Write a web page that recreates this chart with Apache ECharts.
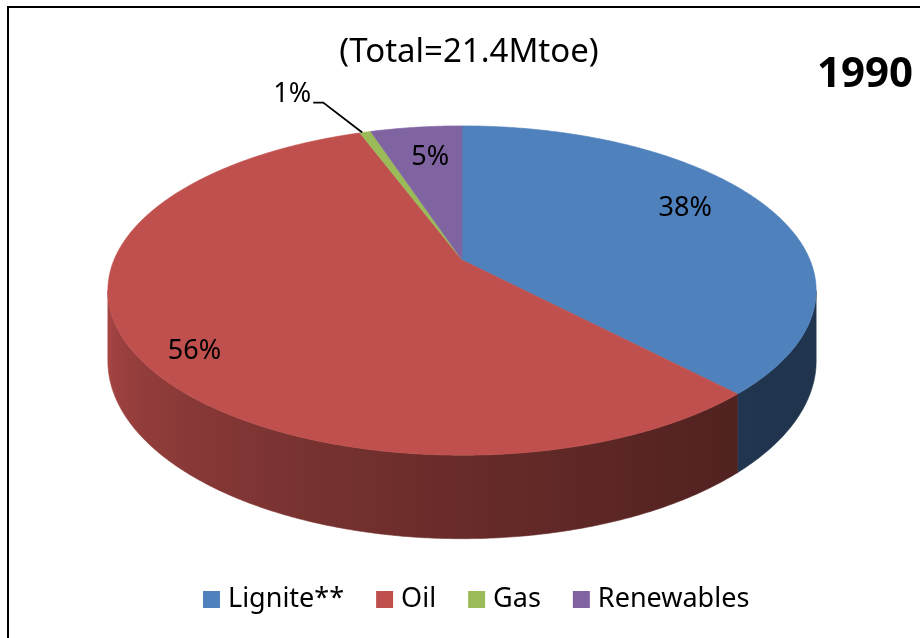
<!DOCTYPE html>
<html>
<head>
<meta charset="utf-8">
<title>Energy mix 1990</title>
<script src="https://cdn.jsdelivr.net/npm/echarts@6.0.0/dist/echarts.min.js"></script>
<style>
    html, body { margin: 0; padding: 0; background: #fff; }
    #chart { width: 920px; height: 638px; }
</style>
</head>
<body>
<div id="chart"></div>
<script>
// data (shares in % of 21.4 Mtoe)
var categories = ['Lignite**', 'Oil', 'Gas', 'Renewables'];
var shares = [38.0, 56.4, 0.6, 5.0];
var colors = ['#4F81BD', '#C0504D', '#9BBB59', '#8064A2'];
var titleText = '(Total=21.4Mtoe)';
var yearText = '1990';

var fontFamily = '"Noto Sans", "DejaVu Sans", sans-serif';

// tilted disc, simple perspective: apex at (cx, cy)
var cx = 462, cy = 260, rx = 348, ry = 159, tilt = 0.1855, depth = 68;
var EDGE_R = Math.acos(-tilt) * 180 / Math.PI;   // right silhouette
var EDGE_L = 360 - EDGE_R;                        // left silhouette

// label nudges (Excel puts them a bit off the mid radius)
var labelOffsets = [[7, -13], [-45, 29], [0, 0], [2, -5]];

function project(theta, r) {
    var a = theta * Math.PI / 180;
    var u = Math.sin(a) * r, v = -Math.cos(a) * r;
    var w = 1 - tilt * v;
    return [cx + rx * u / w, cy + ry * v / w, w];
}

function shade(hex, f) {
    var n = parseInt(hex.slice(1), 16);
    var r = Math.round(((n >> 16) & 255) * f),
        g = Math.round(((n >> 8) & 255) * f),
        b = Math.round((n & 255) * f);
    return 'rgb(' + r + ',' + g + ',' + b + ')';
}

function wallFactor(theta) {
    var t = (theta - 130) / (EDGE_L - 130);
    t = Math.max(0, Math.min(1, t));
    return 0.41 + 0.46 * Math.pow(t, 1.3);
}

function sliceAngles(idx, value) {
    var total = 0, before = 0;
    for (var i = 0; i < shares.length; i++) {
        total += shares[i];
        if (i < idx) before += shares[i];
    }
    return [before / total * 360, (before + value) / total * 360, value / total * 100];
}

function makeRender(idx) {
    return function (params, api) {
        var val = api.value(0);
        var ang = sliceAngles(idx, val);
        var s = ang[0], e = ang[1];
        var color = colors[idx];
        var children = [];

        // side wall (front part only)
        var a = Math.max(s, EDGE_R), b = Math.min(e, EDGE_L);
        if (a < b) {
            var n = Math.max(2, Math.ceil((b - a) / 0.5));
            var top = [], bottom = [];
            for (var k = 0; k <= n; k++) {
                var th = a + (b - a) * k / n;
                var p = project(th, 1);
                top.push([p[0], p[1]]);
                bottom.push([p[0], p[1] + depth / p[2]]);
            }
            var xRight = top[0][0], xLeft = top[n][0];
            var stops = [];
            for (var m = 0; m <= 10; m++) {
                var tt = b - (b - a) * m / 10;
                var px = project(tt, 1)[0];
                stops.push({ offset: (px - xLeft) / (xRight - xLeft), color: shade(color, wallFactor(tt)) });
            }
            var fill = new echarts.graphic.LinearGradient(xLeft, 0, xRight, 0, stops, true);
            children.push({
                type: 'polygon',
                shape: { points: top.concat(bottom.reverse()) },
                style: { fill: fill, stroke: fill, lineWidth: 0.6 }
            });
        }

        // top face
        var pts = [[cx, cy]];
        var steps = Math.max(2, Math.ceil((e - s) / 0.5));
        for (var j = 0; j <= steps; j++) {
            var q = project(s + (e - s) * j / steps, 1);
            pts.push([q[0], q[1]]);
        }
        children.push({
            type: 'polygon',
            shape: { points: pts },
            style: { fill: color, stroke: color, lineWidth: 0.6 }
        });

        // data label
        var mid = (s + e) / 2;
        var labelText = Math.round(ang[2]) + '%';
        if (ang[2] < 2) {
            // small slice: outside label with leader line
            var rim = project(mid - 0.6, 1);
            var elbow = [rim[0] - 39, rim[1] - 30];
            var end = [elbow[0] - 10, elbow[1]];
            children.push({
                type: 'polyline',
                shape: { points: [[rim[0], rim[1]], elbow, end] },
                style: { stroke: '#000', lineWidth: 1.8, fill: null }
            });
            children.push({
                type: 'text',
                x: end[0] - 2, y: end[1] - 8,
                style: {
                    text: labelText, fill: '#000', fontSize: 27, fontFamily: fontFamily,
                    align: 'right', verticalAlign: 'middle'
                }
            });
        } else {
            var lp = project(mid, 0.7);
            children.push({
                type: 'text',
                x: lp[0] + labelOffsets[idx][0], y: lp[1] + labelOffsets[idx][1],
                style: {
                    text: labelText, fill: '#000', fontSize: 27, fontFamily: fontFamily,
                    align: 'center', verticalAlign: 'middle'
                }
            });
        }
        return { type: 'group', children: children };
    };
}

var chart = echarts.init(document.getElementById('chart'));

var series = [];
for (var i = 0; i < categories.length; i++) {
    series.push({
        name: categories[i],
        type: 'custom',
        coordinateSystem: 'none',
        itemStyle: { color: colors[i] },
        renderItem: makeRender(i),
        data: [[shares[i]]],
        animation: false,
        silent: true
    });
}

var option = {
    backgroundColor: '#fff',
    animation: false,
    legend: {
        data: categories,
        left: 198,
        top: 581,
        icon: 'rect',
        itemWidth: 17,
        itemHeight: 17,
        itemGap: 32,
        textStyle: { fontSize: 27, fontFamily: fontFamily, color: '#000', padding: [0, 0, 0, 3] }
    },
    graphic: [
        {
            type: 'rect',
            shape: { x: 8, y: 7, width: 1000, height: 1000 },
            style: { fill: 'none', stroke: '#000', lineWidth: 2 },
            silent: true
        },
        {
            type: 'text',
            x: 469, y: 53,
            style: {
                text: titleText, fill: '#000', fontSize: 33, fontFamily: fontFamily,
                align: 'center', verticalAlign: 'middle'
            }
        },
        {
            type: 'text',
            x: 865, y: 75,
            style: {
                text: yearText, fill: '#000', fontSize: 42, fontWeight: 'bold', fontFamily: fontFamily,
                align: 'center', verticalAlign: 'middle'
            }
        }
    ],
    series: series
};

chart.setOption(option);
</script>
</body>
</html>
